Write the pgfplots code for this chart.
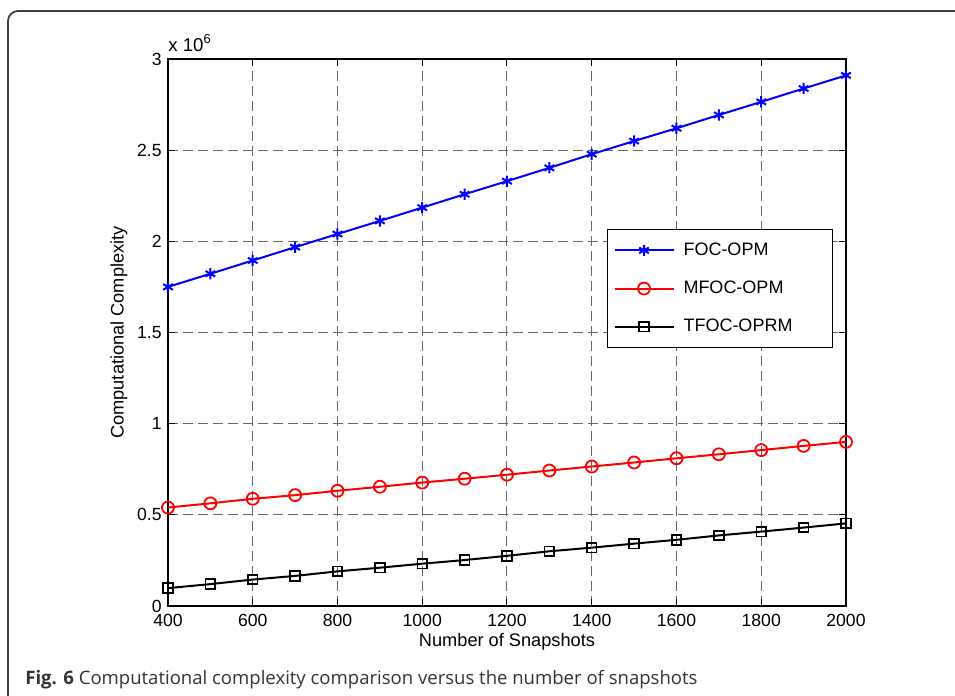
\documentclass[border=0pt]{standalone}
\usepackage{pgfplots}
\pgfplotsset{compat=1.18}
\usepackage{fontspec}
\setmainfont{Liberation Sans}
\newfontfamily\capfont{Open Sans}
\begin{document}
\begin{tikzpicture}
\useasboundingbox (-84pt,-45pt) rectangle (393.5pt,303pt);
\draw[black!75, line width=0.9pt, rounded corners=5pt] (-80pt,-60pt) -- (-80pt,297.5pt) -- (420pt,297.5pt);
\begin{axis}[
  scale only axis,
  width=339pt, height=273.5pt,
  xmin=400, xmax=2000, ymin=0, ymax=3000000,
  xtick={400,600,...,2000},
  ytick={0,500000,1000000,1500000,2000000,2500000,3000000},
  yticklabels={0,0.5,1,1.5,2,2.5,3},
  scaled y ticks=false,
  scaled x ticks=false,
  /pgf/number format/assume math mode=true,
  /pgf/number format/set thousands separator={},
  tick label style={font=\fontsize{8.8}{10}\selectfont},
  yticklabel style={inner ysep=0pt, inner xsep=3pt},
  xticklabel style={inner ysep=0pt, yshift=-4pt},
  label style={font=\fontsize{9.1}{10}\selectfont},
  tick align=inside,
  tick pos=both,
  major tick length=3.5pt,
  axis line style={line width=0.7pt},
  every tick/.style={black, line width=0.5pt},
  grid=major,
  major grid style={black!60, line width=0.5pt, dash pattern=on 5pt off 2.5pt},
  xlabel={Number of Snapshots},
  ylabel={Computational Complexity},
  xlabel style={at={(axis description cs:0.5,-0.0658)}, anchor=center},
  ylabel style={at={(axis description cs:-0.0723,0.5)}, anchor=center},
  legend style={at={(rel axis cs:0.6475,0.689)}, anchor=north west, draw=black, line width=0.5pt,
    inner xsep=3pt, inner ysep=4.5pt, row sep=7.3pt, font=\fontsize{9}{10}\selectfont},
  legend cell align=left,
  legend image code/.code={%
    \draw[mark repeat=2,mark phase=2] plot coordinates {(0pt,0pt) (14.75pt,0pt) (29.5pt,0pt)};},
]
\addplot[blue, line width=1pt, mark=asterisk, mark size=2.8pt, mark options={line width=1pt}] coordinates {
(400,1750000)(500,1822000)(600,1895000)(700,1968000)(800,2040000)(900,2112000)(1000,2185000)
(1100,2258000)(1200,2330000)(1300,2403000)(1400,2478000)(1500,2550000)(1600,2620000)
(1700,2693000)(1800,2765000)(1900,2838000)(2000,2910000)};
\addlegendentry{\makebox[72pt][l]{\hspace{2.5pt}FOC-OPM}}
\addplot[red, line width=1pt, mark=o, mark size=3pt, mark options={line width=0.9pt}] coordinates {
(400,540000)(500,563000)(600,588000)(700,608000)(800,632000)(900,654000)(1000,677000)
(1100,698000)(1200,720000)(1300,743000)(1400,765000)(1500,787000)(1600,810000)
(1700,832000)(1800,855000)(1900,878000)(2000,900000)};
\addlegendentry{\makebox[72pt][l]{\hspace{2.5pt}MFOC-OPM}}
\addplot[black, line width=1pt, mark=square, mark size=2.4pt, mark options={line width=0.9pt}] coordinates {
(400,98000)(500,120000)(600,145000)(700,165000)(800,190000)(900,210000)(1000,232000)
(1100,252000)(1200,275000)(1300,300000)(1400,320000)(1500,342000)(1600,363000)
(1700,387000)(1800,408000)(1900,430000)(2000,453000)};
\addlegendentry{\makebox[72pt][l]{\hspace{2.5pt}TFOC-OPRM}}
\end{axis}
\node[anchor=base west, inner sep=0pt, font=\fontsize{9.3}{10}\selectfont] at (0pt,277pt) {x 10\raisebox{4pt}{\fontsize{6.5}{7}\selectfont 6}};
\node[anchor=base west, inner sep=0pt, text=black!80, font=\capfont\fontsize{9.27}{11}\selectfont] at (-71.5pt,-39.5pt) {\textbf{Fig. 6} Computational complexity comparison versus the number of snapshots};
\end{tikzpicture}
\end{document}
